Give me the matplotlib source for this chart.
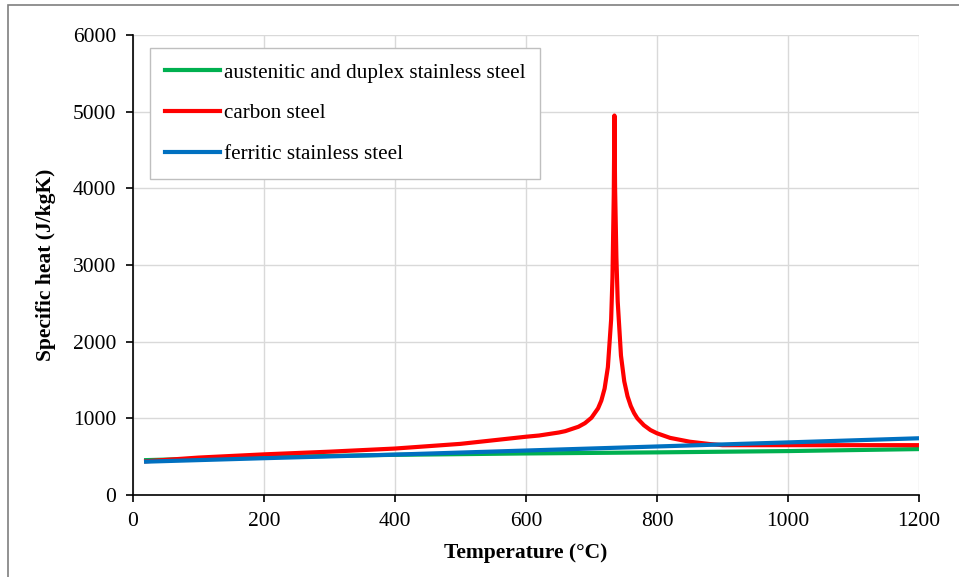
import matplotlib
matplotlib.use("Agg")
import matplotlib.pyplot as plt
from matplotlib.patches import Rectangle

plt.rcParams["font.family"] = ["Liberation Serif", "DejaVu Serif"]

# Temperatures (°C) and specific heat (J/kgK)
t_carbon = [20, 100, 200, 300, 400, 500, 600, 620, 650, 660, 680, 690, 700, 710, 715, 720,
            725, 730, 732, 734, 735, 736, 738, 740, 745, 750, 755, 760, 765, 770, 780,
            790, 800, 820, 850, 880, 900, 1000, 1200]
cp_carbon = [440, 488, 530, 565, 606, 667, 760, 776, 815, 833, 890, 937, 1008, 1130, 1231, 1388,
             1667, 2291, 2832, 3916, 4950, 4000, 3100, 2525, 1818, 1483, 1288, 1160, 1069, 1000, 910,
             847, 805, 745, 695, 665, 650, 650, 650]

t_austenitic = [20, 200, 400, 600, 800, 1000, 1200]
cp_austenitic = [455, 495, 524, 542, 556, 573, 599]

t_ferritic = [20, 200, 400, 600, 800, 1000, 1200]
cp_ferritic = [435, 480, 527, 580, 633, 686, 740]

fig = plt.figure(figsize=(9.59, 5.77), dpi=100)
ax = fig.add_axes([133 / 959, 1 - 495 / 577, (919 - 133) / 959, (495 - 35) / 577])

# outer chart frame (only top and left edges are visible in the crop)
fig.add_artist(Rectangle((8 / 959, -0.1), 1.2, 1 - 5 / 577 + 0.1, transform=fig.transFigure,
                         fill=False, edgecolor="#7f7f7f", lw=1.2))

ax.plot(t_austenitic, cp_austenitic, color="#00B050", lw=3, label="austenitic and duplex stainless steel")
ax.plot(t_carbon, cp_carbon, color="#FF0000", lw=3, label="carbon steel")
ax.plot(t_ferritic, cp_ferritic, color="#0070C0", lw=3, label="ferritic stainless steel")

ax.set_xlim(0, 1200)
ax.set_ylim(0, 6000)
ax.set_xticks(range(0, 1201, 200))
ax.set_yticks(range(0, 6001, 1000))
ax.grid(True, color="#d9d9d9", lw=1)
ax.set_axisbelow(True)
for s in ["top", "right"]:
    ax.spines[s].set_visible(False)
for s in ["left", "bottom"]:
    ax.spines[s].set_color("black")
    ax.spines[s].set_linewidth(1.2)
ax.tick_params(direction="out", length=5, width=1.2, labelsize=15.5, pad=7)

ax.set_xlabel("Temperature (°C)", fontsize=15.5, fontweight="bold", labelpad=9)
ax.set_ylabel("Specific heat (J/kgK)", fontsize=15.5, fontweight="bold", labelpad=12)

leg = ax.legend(loc="upper left", bbox_to_anchor=(17 / 786, 1 - 13 / 460), fontsize=15.2,
                handlelength=2.6, labelspacing=1.0, borderpad=0.7, handletextpad=0.2,
                borderaxespad=0, fancybox=False, framealpha=1)
leg.get_frame().set_edgecolor("#bfbfbf")
leg.get_frame().set_linewidth(1)

fig.savefig("out.png", dpi=100)
